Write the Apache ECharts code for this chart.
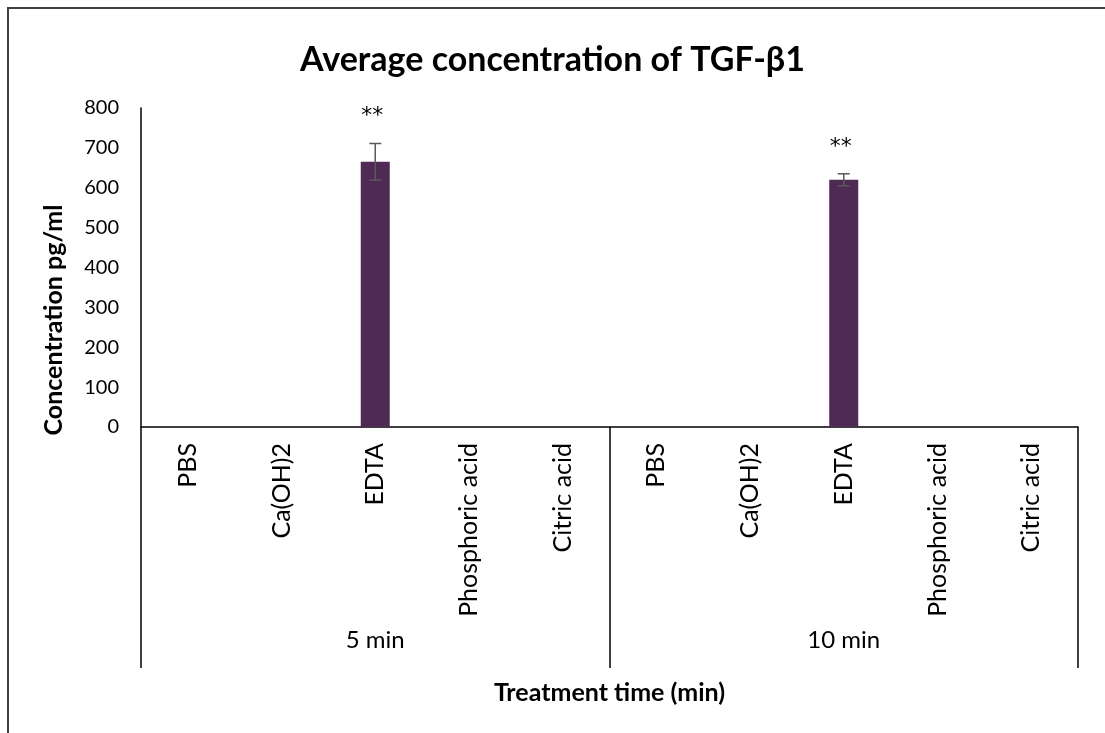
<!DOCTYPE html>
<html>
<head>
<meta charset="utf-8">
<script src="https://cdn.jsdelivr.net/npm/echarts@6/dist/echarts.min.js"></script>
<style>
html,body{margin:0;padding:0;background:#fff;}
#chart{width:1105px;height:733px;}
</style>
</head>
<body>
<div id="chart"></div>
<script>
const categories = ['PBS','Ca(OH)2','EDTA','Phosphoric acid','Citric acid','PBS','Ca(OH)2','EDTA','Phosphoric acid','Citric acid'];
const groups = ['5 min','10 min'];
const concentration = [null,null,665,null,null,null,null,620,null,null];
const errors = [null,null,46,null,null,null,null,15,null,null];
const significance = ['','','**','','','','','**','',''];
const yTicks = [0,100,200,300,400,500,600,700,800];

const FONT = 'Lato';
const errData = [];
concentration.forEach((v,i)=>{ if(v!=null) errData.push([i, v, errors[i], significance[i]]); });

const chart = echarts.init(document.getElementById('chart'), null, {renderer:'canvas'});
chart.setOption({
  animation:false,
  backgroundColor:'#fff',
  title:{
    text:'Average concentration of TGF-β1',
    left:'center', top:38,
    textStyle:{fontFamily:FONT, fontWeight:'bold', fontSize:34, color:'#000'}
  },
  graphic:[{
    type:'rect', shape:{x:8,y:8,width:1200,height:800},
    style:{fill:'none', stroke:'#404040', lineWidth:2}, silent:true
  },{
    type:'text', x:54, y:320, rotation:Math.PI/2,
    style:{text:'Concentration pg/ml', align:'center', verticalAlign:'middle',
      font:'bold 25px Lato', fill:'#000'}, silent:true
  }],
  grid:{left:141, right:27, top:108, bottom:306, containLabel:false},
  xAxis:[{
    type:'category', data:categories, position:'bottom',
    axisLine:{show:true, lineStyle:{color:'#000', width:1.5}},
    axisTick:{show:false},
    axisLabel:{rotate:90, margin:16, fontFamily:FONT, fontSize:25, color:'#000', interval:0},
    splitLine:{show:false}
  },{
    type:'category', data:groups, position:'bottom', offset:0,
    axisLine:{show:false},
    axisTick:{show:true, length:241, inside:false, lineStyle:{color:'#000', width:1.5}},
    axisLabel:{margin:213, fontFamily:FONT, fontSize:24, color:'#000', verticalAlign:'middle'},
    name:'Treatment time (min)', nameLocation:'middle', nameGap:266,
    nameTextStyle:{fontFamily:FONT, fontWeight:'bold', fontSize:25, color:'#000', verticalAlign:'middle'}
  }],
  yAxis:{
    type:'value', min:0, max:800, interval:100,
    axisLine:{show:true, lineStyle:{color:'#000', width:1.5}},
    axisTick:{show:false},
    splitLine:{show:false},
    axisLabel:{margin:22, fontFamily:FONT, fontSize:20, color:'#000',
      formatter:v=>yTicks.includes(v)?String(v):''}
  },
  series:[{
    type:'bar', xAxisIndex:0, data:concentration, barWidth:29,
    itemStyle:{color:'#4E2A55'}
  },{
    type:'custom', xAxisIndex:0, data:errData, z:10,
    renderItem:function(params, api){
      const x = api.value(0), m = api.value(1), e = api.value(2);
      const top = api.coord([x, m+e]);
      const bot = api.coord([x, m-e]);
      const cx = top[0];
      const cap = 6;
      const st = {stroke:'#595959', lineWidth:1.5};
      return {type:'group', children:[
        {type:'line', shape:{x1:cx,y1:top[1],x2:cx,y2:bot[1]}, style:st},
        {type:'line', shape:{x1:cx-cap,y1:top[1],x2:cx+cap,y2:top[1]}, style:st},
        {type:'line', shape:{x1:cx-cap,y1:bot[1],x2:cx+cap,y2:bot[1]}, style:st},
        {type:'text', style:{text:api.value(3), x:cx-3, y:top[1]-27, align:'center', verticalAlign:'middle',
          font:'22px "DejaVu Sans"', fill:'#000'}}
      ]};
    }
  }]
});
</script>
</body>
</html>
